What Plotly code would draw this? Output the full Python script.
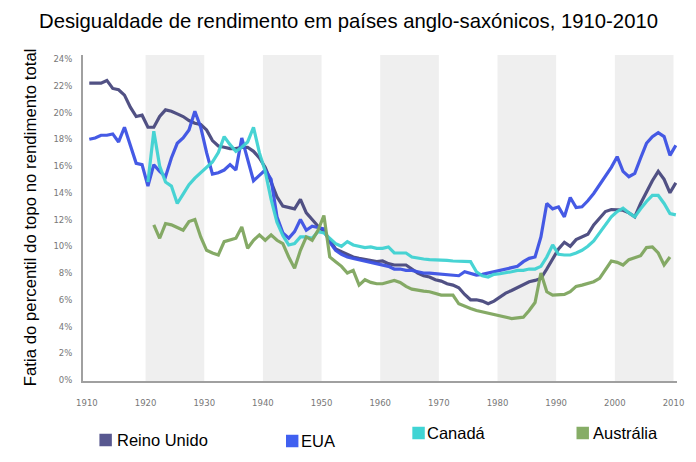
import plotly.graph_objects as go

years_uk = list(range(1910, 2011))
uk = [22.2, 22.2, 22.2, 22.4, 21.8, 21.7, 21.3, 20.4, 19.7, 19.8,
      18.9, 18.9, 19.7, 20.2, 20.1, 19.9, 19.7, 19.4, 19.2, 19.1,
      18.7, 17.9, 17.5, 17.4, 17.3, 17.3, 17.4, 17.4, 17.1, 16.6,
      15.9, 14.8, 13.7, 13.0, 12.9, 12.8, 13.5, 12.5, 12.0, 11.5,
      11.1, 10.5, 9.8, 9.6, 9.4, 9.2, 9.1, 9.0, 8.9, 8.85,
      8.9, 8.7, 8.6, 8.6, 8.6, 8.3, 8.0, 7.8, 7.7, 7.5,
      7.4, 7.2, 7.1, 6.9, 6.4, 6.0, 6.0, 5.9, 5.7, 5.9,
      6.2, 6.5, 6.7, 6.9, 7.1, 7.35, 7.45, 7.6, 8.3, 9.0,
      9.8, 10.3, 10.0, 10.5, 10.7, 10.9, 11.6, 12.1, 12.6, 12.75,
      12.75, 12.7, 12.5, 12.2, 13.2, 14.1, 14.9, 15.6, 15.0, 14.0,
      14.75]

years_us = list(range(1910, 2011))
us = [18.0, 18.1, 18.3, 18.3, 18.4, 17.8, 18.9, 17.6, 16.2, 16.1,
      14.5, 16.1, 15.6, 15.2, 16.6, 17.7, 18.1, 18.7, 20.1, 18.9,
      17.0, 15.4, 15.5, 15.7, 16.1, 15.7, 18.1, 16.5, 14.9, 15.3,
      15.7, 15.0, 12.2, 11.0, 10.6, 11.1, 12.0, 11.2, 11.5, 11.4,
      11.3, 10.3, 9.7, 9.4, 9.2, 9.1, 9.0, 8.9, 8.8, 8.7,
      8.6, 8.5, 8.3, 8.3, 8.2, 8.2, 8.1, 8.0, 8.0, 7.95,
      7.9, 7.85, 7.8, 7.8, 8.1, 8.0, 7.85, 7.9, 8.0, 8.1,
      8.2, 8.3, 8.4, 8.5, 8.85, 9.1, 9.2, 10.7, 13.2, 12.8,
      12.95, 12.2, 13.65, 12.9, 12.95, 13.4, 13.95, 14.6, 15.2, 15.9,
      16.7, 15.6, 15.2, 15.45, 16.6, 17.7, 18.2, 18.5, 18.2, 16.8,
      17.55]

years_ca = list(range(1920, 2011))
ca = [14.8, 18.6, 16.0, 14.8, 14.5, 13.2, 13.9, 14.6, 15.1, 15.5,
      15.9, 16.3, 17.0, 18.2, 17.6, 17.1, 17.4, 17.8, 18.9, 17.0,
      15.6, 13.5, 11.8, 10.8, 10.1, 10.2, 10.7, 10.7, 10.6, 11.1,
      11.0, 10.6, 10.2, 10.0, 10.35, 10.1, 10.0, 9.9, 9.95, 9.85,
      9.85, 9.95, 9.5, 9.5, 9.5, 9.2, 9.1, 9.05, 9.0, 9.0,
      9.0, 8.95, 8.9, 8.9, 8.85, 8.85, 8.1, 7.8, 7.7, 7.9,
      7.95, 8.0, 8.1, 8.2, 8.2, 8.3, 8.3, 8.5, 9.2, 10.1,
      9.4, 9.35, 9.35, 9.5, 9.7, 10.0, 10.4, 11.0, 11.6, 12.2,
      12.6, 12.85, 12.5, 12.2, 12.8, 13.35, 13.8, 13.8, 13.2, 12.45,
      12.35]

years_au = list(range(1921, 2010))
au = [11.6, 10.6, 11.7, 11.6, 11.4, 11.2, 11.85, 12.0, 10.7,
      9.7, 9.5, 9.35, 10.35, 10.45, 10.6, 11.45, 9.85, 10.45, 10.85,
      10.45, 10.85, 10.45, 10.2, 9.2, 8.35, 9.7, 10.7, 10.45, 11.2,
      12.3, 9.2, 8.85, 8.5, 8.0, 8.2, 7.1, 7.5, 7.3, 7.2,
      7.2, 7.3, 7.45, 7.3, 7.0, 6.8, 6.7, 6.65, 6.6, 6.5,
      6.35, 6.35, 6.35, 5.7, 5.5, 5.35, 5.2, 5.1, 5.0, 4.9,
      4.85, 4.7, 4.6, 4.65, 4.7, 5.2, 5.8, 8.0, 6.6, 6.35,
      6.35, 6.4, 6.6, 7.0, 7.1, 7.2, 7.35, 7.6, 8.2, 8.9,
      8.8, 8.6, 9.0, 9.15, 9.3, 9.9, 9.95, 9.5, 8.6, 9.2]

series_names = ["Reino Unido", "EUA", "Canadá", "Austrália"]
series_colors = ["#48487e", "#3c52e4", "#3fd2d2", "#7fa65e"]
legend_colors = ["#585890", "#4060f0", "#40d4d4", "#86ad66"]

decades = [1910, 1920, 1930, 1940, 1950, 1960, 1970, 1980, 1990, 2000, 2010]
x_tick_labels = [str(d) for d in decades]
y_ticks = list(range(0, 25, 2))
y_tick_labels = [f"{v}%" for v in y_ticks]
shaded_decades = [1920, 1940, 1960, 1980, 2000]

title_text = "Desigualdade de rendimento em países anglo-saxónicos, 1910-2010"
y_title = "Fatia do percentil do topo no rendimento total"

fig = go.Figure()
data = [(years_uk, uk), (years_us, us), (years_ca, ca), (years_au, au)]
for (xs, ys), name, col in zip(data, series_names, series_colors):
    fig.add_trace(go.Scatter(x=xs, y=ys, mode="lines", name=name,
                             line=dict(color=col, width=3.2), opacity=0.95,
                             showlegend=False))

# geometry of plot area (px)
L, R, T, B = 83, 680, 55, 381
W, H = 696, 462
pw, ph = R - L, B - T

shapes = []
for d in shaded_decades:
    shapes.append(dict(type="rect", xref="x", yref="paper",
                       x0=d - 0.4, x1=min(d + 9.6, 2009.65), y0=0, y1=1,
                       fillcolor="#efefef", line=dict(width=0), layer="below"))

# legend (squares + labels) positioned in pixels
legend_items = [(99.5, 440, 115, 440), (287, 441, 300, 441),
                (414, 433, 427, 433), (579, 433, 594, 433)]
annotations = []
for (sx, sy, tx, ty), name, col in zip(legend_items, series_names, legend_colors):
    s = 12.5
    shapes.append(dict(type="rect", xref="paper", yref="paper",
                       x0=(sx - L) / pw, x1=(sx + s - L) / pw,
                       y0=(B - (sy + s / 2)) / ph, y1=(B - (sy - s / 2)) / ph,
                       fillcolor=col, line=dict(width=0)))
    annotations.append(dict(text=name, xref="paper", yref="paper",
                            x=(tx - L) / pw, y=(B - ty) / ph,
                            xanchor="left", yanchor="middle", showarrow=False,
                            font=dict(family="Liberation Sans, Arial", size=16.5, color="#000")))

annotations.append(dict(text=y_title, xref="paper", yref="paper",
                        x=(30 - L) / pw, y=(B - 217) / ph, textangle=-90,
                        xanchor="center", yanchor="middle", showarrow=False,
                        font=dict(family="Liberation Sans, Arial", size=16.8, color="#000")))
annotations.append(dict(text=title_text, xref="paper", yref="paper",
                        x=(350 - L) / pw, y=(B - 21) / ph,
                        xanchor="center", yanchor="middle", showarrow=False,
                        font=dict(family="Liberation Sans, Arial", size=20.3, color="#000")))

fig.update_layout(
    width=W, height=H,
    margin=dict(l=L, r=W - R, t=T, b=H - B, pad=0),
    plot_bgcolor="white", paper_bgcolor="white",
    shapes=shapes, annotations=annotations,
    showlegend=False,
)
fig.update_xaxes(range=[1908.93, 2010.2], tickvals=[d - 0.4 for d in decades],
                 ticktext=x_tick_labels, showgrid=False, zeroline=False,
                 showline=True, linecolor="#a0a0a0", linewidth=2,
                 ticks="", ticklabelstandoff=13,
                 tickfont=dict(family="DejaVu Sans", size=8.5, color="#777"))
fig.update_yaxes(range=[-0.07, 24.3], tickvals=y_ticks, ticktext=y_tick_labels,
                 showgrid=False, zeroline=False, showline=True,
                 linecolor="#a0a0a0", linewidth=2, ticks="", ticklabelstandoff=7,
                 tickfont=dict(family="DejaVu Sans", size=8.5, color="#777"))

fig.write_html("out.html")
